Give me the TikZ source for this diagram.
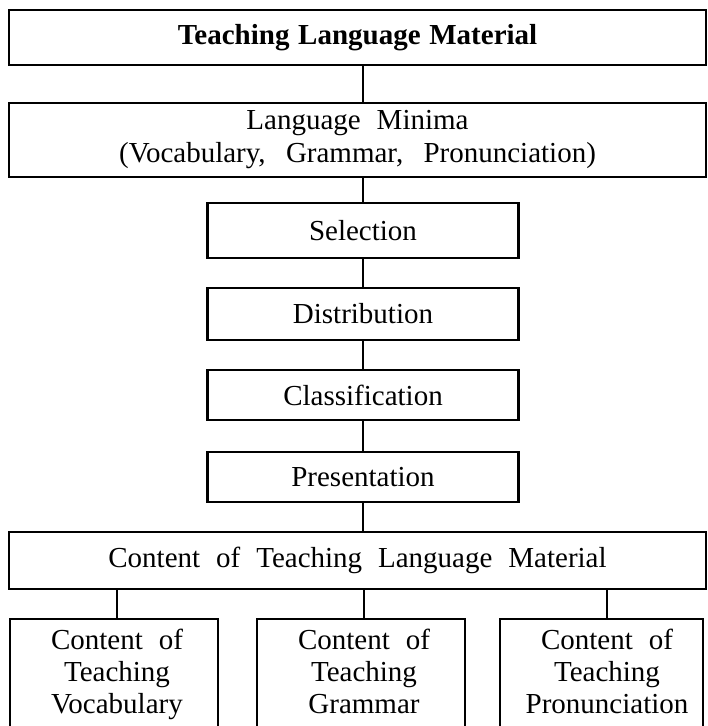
\documentclass[tikz,border=0pt]{standalone}
\usepackage{fontspec}
\setmainfont{Liberation Serif}
\newcommand\fsreg{\fontsize{14.5}{16.5}\selectfont\spaceskip=.55em\relax}
\newcommand\fsbot{\fontsize{14.5}{16}\selectfont\spaceskip=.55em\relax}
\newcommand\fsbold{\fontsize{14.5}{16.5}\selectfont\bfseries\spaceskip=.3em\relax}
\tikzset{
  box/.style={draw, line width=1.1pt, rectangle, inner sep=0pt, align=center, font=\fsreg},
  wide/.style={box, minimum width=348.5pt},
  stepbox/.style={box, minimum width=155.5pt},
  leaf/.style={draw, line width=1.1pt, rectangle, inner sep=0pt, anchor=north, minimum height=80pt},
  leaftext/.style={inner sep=0pt, anchor=north, align=center, font=\fsbot},
  link/.style={line width=1pt},
}
\begin{document}
\begin{tikzpicture}[x=0.5pt, y=-0.5pt]
\useasboundingbox (0,0) rectangle (707,726);
\node[wide, minimum height=27.5pt, font=\fsbold] (top) at (357.5,37.5) {Teaching Language Material};
\node[wide, minimum height=37pt] (minima) at (357.5,140) {Language Minima\\{\spaceskip=.7em\relax(Vocabulary, Grammar, Pronunciation)}};
\node[stepbox, minimum height=27.5pt] (sel) at (363,230.5) {Selection};
\node[stepbox, minimum height=26pt] (dist) at (363,314) {Distribution};
\node[stepbox, minimum height=25pt] (cls) at (363,395) {Classification};
\node[stepbox, minimum height=25pt] (pres) at (363,477) {Presentation};
\node[wide, minimum height=28.5pt] (content) at (357.5,560.5) {Content of Teaching Language Material};
\node[leaf, minimum width=104pt] (vocab) at (114,618) {};
\node[leaf, minimum width=104pt] (gram) at (361,618) {};
\node[leaf, minimum width=101.5pt] (pron) at (601.5,618) {};
\node[leaftext] (tv) at (117,629) {Content of\\Teaching\\Vocabulary};
\node[leaftext] (tg) at (364,629) {Content of\\Teaching\\Grammar};
\node[leaftext] (tp) at (607,629) {Content of\\Teaching\\Pronunciation};
\draw[link] (top.south -| sel.north) -- (minima.north -| sel.north);
\draw[link] (minima.south -| sel.north) -- (sel.north);
\draw[link] (sel.south) -- (dist.north);
\draw[link] (dist.south) -- (cls.north);
\draw[link] (cls.south) -- (pres.north);
\draw[link] (pres.south) -- (content.north -| pres.south);
\draw[link] (content.south -| tv.north) -- (vocab.north -| tv.north);
\draw[link] (content.south -| tg.north) -- (gram.north -| tg.north);
\draw[link] (content.south -| tp.north) -- (pron.north -| tp.north);
\end{tikzpicture}
\end{document}
